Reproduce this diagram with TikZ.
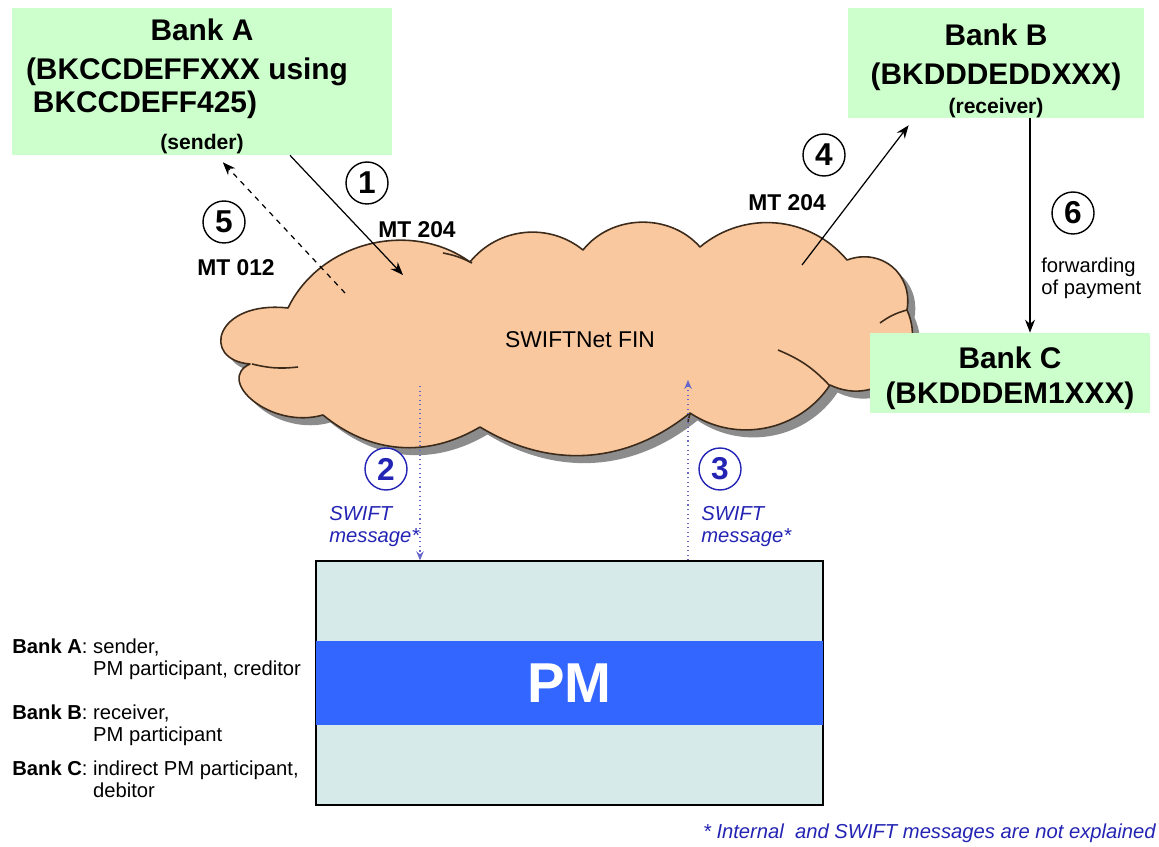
\documentclass[tikz,border=0pt]{standalone}
\usepackage{fontspec}
\setmainfont{Liberation Sans}
\definecolor{bankgreen}{HTML}{CCFFCC}
\definecolor{cloudfill}{HTML}{F9C89E}
\definecolor{cloudline}{HTML}{3C2A1A}
\definecolor{pmfill}{HTML}{D6EAEA}
\definecolor{pmblue}{HTML}{3366FF}
\definecolor{msgblue}{HTML}{2424B4}
\newcommand{\rolesize}{\bfseries\fontsize{12}{14}\selectfont}
\usetikzlibrary{calc, positioning, shadows, arrows.meta}

\begin{document}
\begin{tikzpicture}[x=0.02cm, y=-0.02cm,
  bank/.style={fill=bankgreen, align=center, inner sep=0pt,
               font=\bfseries\fontsize{17}{19}\selectfont},
  cloudshape/.style={draw=cloudline, fill=cloudfill, line width=0.9pt, line join=round,
               drop shadow={shadow xshift=0.15cm, shadow yshift=-0.15cm, fill=black!45, opacity=1}},
  fold/.style={draw=cloudline, line width=0.9pt},
  num/.style={draw, circle, line width=0.8pt, minimum size=0.84cm, inner sep=0pt,
              fill=white, font=\bfseries\fontsize{18}{18}\selectfont},
  bluenum/.style={num, draw=msgblue, text=msgblue},
  mt/.style={font=\bfseries\fontsize{13}{15}\selectfont},
  msg/.style={-{Stealth[length=2.6mm, width=2mm]}, line width=0.7pt},
  dotmsg/.style={-{Stealth[length=1.8mm, width=1.5mm]}, dotted, line width=0.6pt, draw=msgblue!70!white},
  swift/.style={align=left, inner sep=0pt, text=msgblue, font=\itshape\fontsize{11.5}{12.5}\selectfont},
  legend/.style={inner sep=0pt, font=\fontsize{11.5}{12.5}\selectfont},
]
\useasboundingbox (0,0) rectangle (1159,847);

\path[cloudshape] (288,308) to[bend left=50] (470,262) to[bend left=45] (583,250)
  to[bend left=50] (700,247) to[bend left=45] (847,260)
  to[bend left=60, looseness=1.2] (907,310) to[bend left=70, looseness=1.3] (830,385)
  to[bend left=45] (690,413) to[bend left=35] (480,427) to[bend left=35] (323,415)
  .. controls (270,430) and (215,380) .. (250,364)
  .. controls (200,360) and (215,300) .. (288,308) -- cycle;
\draw[fold] (252,364) to[bend right=10] (298,367);
\draw[fold] (443,253) to[bend left=8] (472,263);
\draw[fold] (880,323) to[bend left=10] (907,310);
\draw[fold] (778,350) to[bend left=12] (830,386);
\draw[fold] (690,414) to[bend right=10] (688,423);
\node[font=\fontsize{13}{15}\selectfont] (fin) at (580,340) {SWIFTNet FIN};

\node[bank, minimum width=7.6cm, minimum height=2.94cm] (bankA) at (202,81.5) {
  \rule{0pt}{18pt}Bank A\\[3pt](BKCCDEFFXXX using\rule{0.6cm}{0pt}\\BKCCDEFF425)\rule{2.28cm}{0pt}\\[2pt]{\rolesize (sender)}
};
\node[bank, minimum width=5.92cm, minimum height=2.2cm] (bankB) at (996,63) {
  \rule{0pt}{21pt}Bank B\\[3.5pt](BKDDDEDDXXX)\\[-3pt]{\rolesize (receiver)}
};
\node[bank, minimum width=5.6cm, minimum height=1.6cm] (bankC) at (1010,373) {
  \rule{0pt}{18pt}Bank C\\[1pt](BKDDDEM1XXX)
};

\node[draw, line width=0.8pt, fill=pmfill, minimum width=10.14cm, minimum height=4.88cm] (pm) at (569.5,683) {};
\node[fill=pmblue, text=white, minimum width=10.14cm, minimum height=1.7cm,
      font=\bfseries\fontsize{32}{34}\selectfont] (pmband) at (pm.center) {PM};

\coordinate (in1) at (403,275);
\coordinate (out5) at (345,293);
\coordinate (out4) at (802,265);
\coordinate (out2) at (420,386);
\coordinate (in3) at (688,380);

\draw[msg] (bankA.-40.5) -- (in1);
\draw[msg, dashed, shorten >=0.19cm] (out5) -- (bankA.-79);
\draw[msg, shorten >=0.175cm] (out4) -- (bankB.-146.8);
\draw[msg] ([xshift=0.68cm]bankB.south) -- ([xshift=0.68cm]bankB.south |- bankC.north);
\draw[dotmsg] (out2) -- (pm.north -| out2);
\draw[dotmsg] (pm.north -| in3) -- (in3);

\node[num] (n1) at (367,183) {1};
\node[num] (n5) at (224,222) {5};
\node[num] (n4) at (824,155) {4};
\node[num] (n6) at (1073,213) {6};
\node[bluenum] (n2) at (386,469) {2};
\node[bluenum] (n3) at (720,469) {3};

\node[mt] (mt1) at (417,230) {MT 204};
\node[mt] (mt5) at (236,268) {MT 012};
\node[mt] (mt4) at (787,203) {MT 204};
\node[legend, align=left, anchor=west] (fwd) at (1041,278) {forwarding\\of payment};
\node[swift, anchor=west] (sw2) at (329,527) {SWIFT\\message*};
\node[swift, anchor=west] (sw3) at (701,527) {SWIFT\\message*};
\node[swift, anchor=east] (foot) at (1156,833) {* Internal\ \ and SWIFT messages are not explained};

\node[legend, anchor=west] (lgA) at (12,660) {\begin{tabular}{@{}l@{\ }l@{}}\textbf{Bank A}: & sender,\\ & PM participant, creditor\end{tabular}};
\node[legend, anchor=west] (lgB) at (12,726) {\begin{tabular}{@{}l@{\ }l@{}}\textbf{Bank B}: & receiver,\\ & PM participant\end{tabular}};
\node[legend, anchor=west] (lgC) at (12,782) {\begin{tabular}{@{}l@{\ }l@{}}\textbf{Bank C}: & indirect PM participant,\\ & debitor\end{tabular}};
\end{tikzpicture}
\end{document}
